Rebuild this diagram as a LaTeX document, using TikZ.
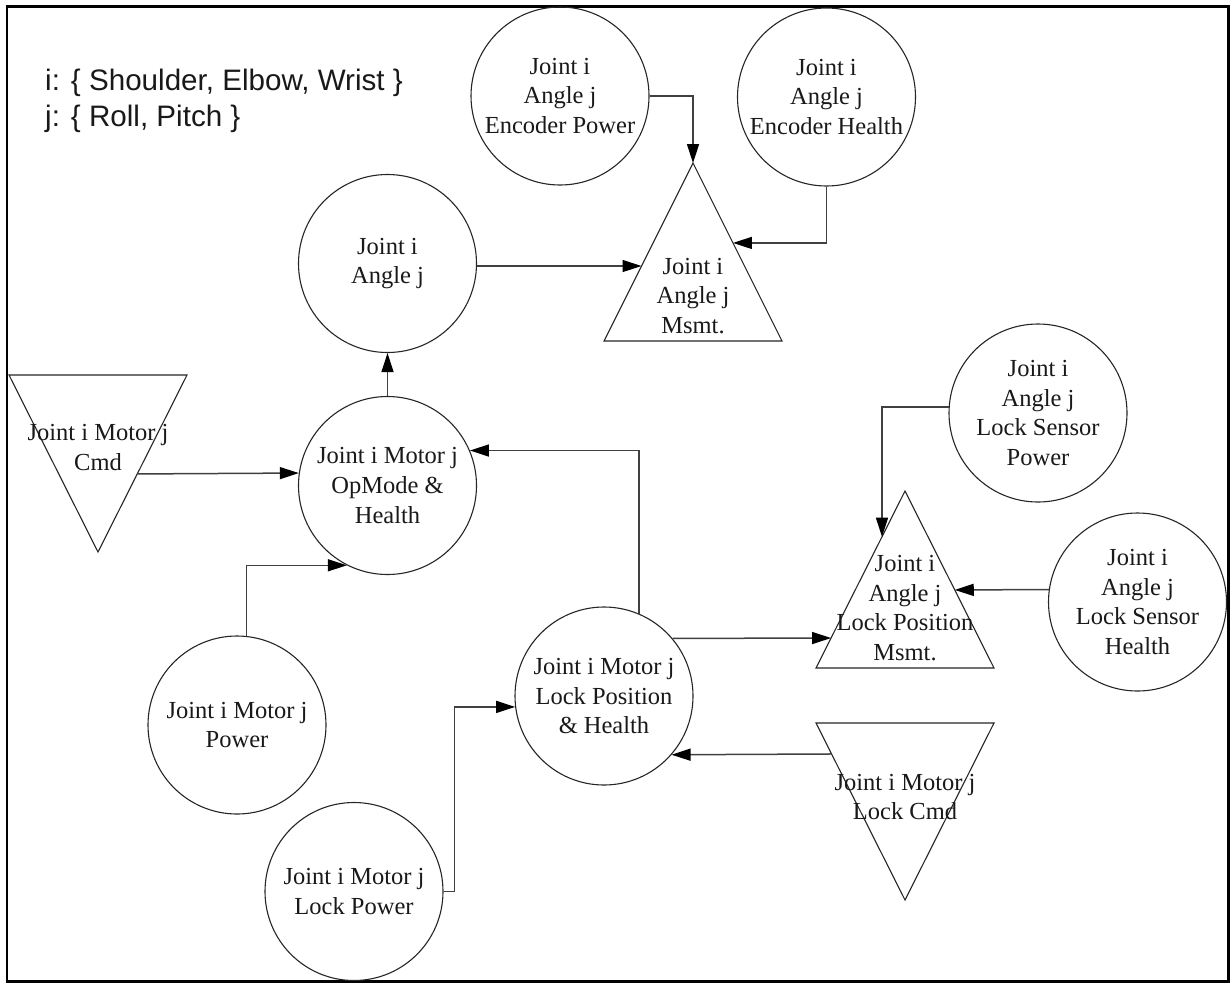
\documentclass[tikz,border=0pt]{standalone}
\usepackage{fontspec}
\setmainfont{Liberation Serif}
\newfontfamily\legendfont{Liberation Sans}
\usetikzlibrary{arrows.meta,calc}

\begin{document}
\begin{tikzpicture}[x=1pt,y=-1pt,
  bubble/.style={circle,draw=black!85,line width=1.1pt,minimum size=178pt,
    inner sep=0pt,align=center,text=black!90,font=\fontsize{24.5}{29.5}\selectfont},
  tritext/.style={align=center,inner sep=0pt,text=black!90,
    font=\fontsize{24.5}{29.5}\selectfont},
  triline/.style={draw=black!85,line width=1.1pt,line join=miter},
  flow/.style={draw=black!75,line width=1.5pt,
    -{Triangle[length=19pt,width=12pt,color=black]}},
  legend/.style={anchor=west,inner sep=0pt,text=black!90,
    font=\legendfont\fontsize{29.6}{36}\selectfont}]

% page and frame
\useasboundingbox (0,0) rectangle (1231,983);
\fill[white] (0,0) rectangle (1231,983);
\draw[line width=2.5pt] (7,6.5) rectangle (1228.5,981.5);

% index legend
\node[legend] (legi) at (45,83) {i: \{ Shoulder, Elbow, Wrist \}};
\node[legend] (legj) at (45,119) {j: \{ Roll, Pitch \}};

% circular signal nodes
\node[bubble] (encP) at (560,96)      {Joint i\\Angle j\\Encoder Power};
\node[bubble] (encH) at (826.5,97)    {Joint i\\Angle j\\Encoder Health};
\node[bubble] (ang)  at (387.5,263.5) {Joint i\\Angle j};
\node[bubble] (opm)  at (387.5,485.5) {Joint i Motor j\\OpMode \&\\Health};
\node[bubble] (mpow) at (237,725)     {Joint i Motor j\\Power};
\node[bubble] (lpow) at (354,891.5)   {Joint i Motor j\\Lock Power};
\node[bubble] (lpos) at (604,696)     {Joint i Motor j\\Lock Position\\\& Health};
\node[bubble] (lsp)  at (1038,413)    {Joint i\\Angle j\\Lock Sensor\\Power};
\node[bubble] (lsh)  at (1137.5,602)  {Joint i\\Angle j\\Lock Sensor\\Health};

% measurement triangles (apex up)
\coordinate (msA) at (693,163);
\coordinate (msL) at (604,341);
\coordinate (msR) at (782,341);
\draw[triline] (msA) -- (msR) -- (msL) -- cycle;
\node[tritext] (ms) at (693,296) {Joint i\\Angle j\\Msmt.};

\coordinate (lmA) at (905,491);
\coordinate (lmL) at (816,668);
\coordinate (lmR) at (994,668);
\draw[triline] (lmA) -- (lmR) -- (lmL) -- cycle;
\node[tritext] (lm) at (905,608) {Joint i\\Angle j\\Lock Position\\Msmt.};

% command triangles (apex down)
\coordinate (cmL) at (9,375);
\coordinate (cmR) at (187,375);
\coordinate (cmB) at (98,552);
\draw[triline] (cmL) -- (cmR) -- (cmB) -- cycle;
\node[tritext] (cmd) at (98,447.5) {Joint i Motor j\\Cmd};

\coordinate (lcL) at (816,723);
\coordinate (lcR) at (994,723);
\coordinate (lcB) at (905,900);
\draw[triline] (lcL) -- (lcR) -- (lcB) -- cycle;
\node[tritext] (lcmd) at (905,797) {Joint i Motor j\\Lock Cmd};

% connector end points on triangle sides
\coordinate (msInH)  at ($(msA)!0.449!(msR)$);
\coordinate (msInA)  at ($(msA)!0.5787!(msL)$);
\coordinate (cmOut)  at ($(cmR)!0.559!(cmB)$);
\coordinate (lmInP)  at ($(lmA)!0.8305!(lmL)$);
\coordinate (lmInS)  at ($(lmA)!0.2584!(lmL)$);
\coordinate (lmInH)  at ($(lmA)!0.559!(lmR)$);
\coordinate (lcOut)  at ($(lcL)!0.175!(lcB)$);

% connectors
\draw[flow] (encP.east) -| (msA);
\draw[flow] (encH.south) |- (msInH);
\draw[flow] (ang.east |- msInA) -- (msInA);
\draw[flow] (opm.north) -- (ang.south);
\draw[flow] (cmOut) -- (opm.172.6);
\draw[flow] (mpow.84.2) |- (opm.243.9);
\draw[flow] (lpos.67.5) |- (opm.23.5);
\draw[flow] (lpos.40.7) -- (lmInP);
\draw[flow] (lpow.east) -- ++(11,0) |- (lpos.187.75);
\draw[flow] (lsp.176.1) -| (lmInS);
\draw[flow] (lsh.172.25) -- (lmInH);
\draw[flow] (lcOut) -- (lpos.319.3);

\end{tikzpicture}
\end{document}
